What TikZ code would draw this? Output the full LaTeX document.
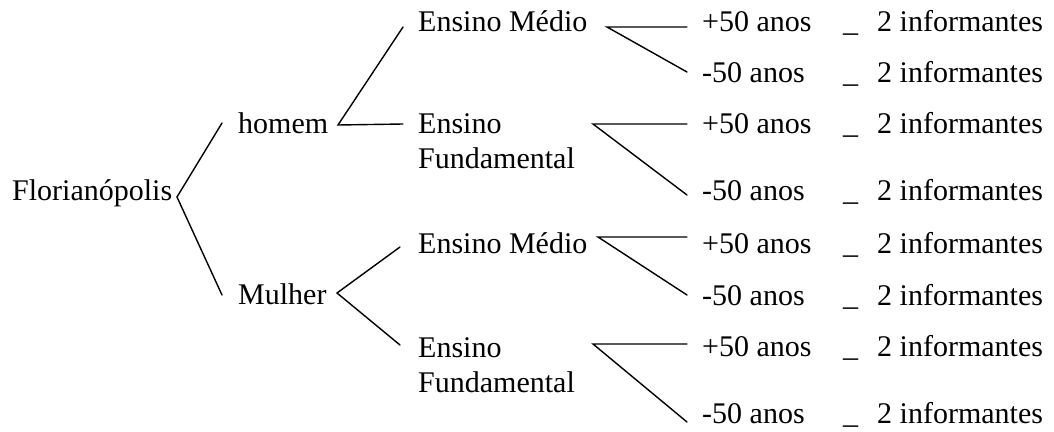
\documentclass[tikz,border=0pt]{standalone}
\usepackage{fontspec}
\setmainfont{Liberation Serif}
\begin{document}
\begin{tikzpicture}[x=1pt,y=-1pt,
  lbl/.style={anchor=base west,inner sep=0pt,font=\fontsize{30}{35}\selectfont},
  br/.style={line width=1.4pt,line cap=round}]
\useasboundingbox (0,0) rectangle (1054,431);
% texts
\node[lbl] (flo) at (12,200) {Florianópolis};
\node[lbl] (hom) at (238,133) {homem};
\node[lbl] (mul) at (238,304) {Mulher};
\node[lbl] (em1) at (418,31) {Ensino Médio};
\node[lbl] (ef1) at (418,133) {\vtop{\baselineskip=35pt\hbox{Ensino}\hbox{Fundamental}}};
\node[lbl] (em2) at (418,253) {Ensino Médio};
\node[lbl] (ef2) at (418,357) {\vtop{\baselineskip=35pt\hbox{Ensino}\hbox{Fundamental}}};
\foreach \i/\y/\t in {1/31/+50,2/82/-50,3/133/+50,4/200/-50,5/253/+50,6/305/-50,7/356/+50,8/423/-50}{
  \node[lbl] (a\i) at (702,\y) {\t{} anos};
  \node[lbl] (u\i) at (843,\y) {\_};
  \node[lbl] (n\i) at (877,\y) {2 informantes};
}
% branch coordinates
\coordinate (vF) at (177,197);
\coordinate (tH) at (222,123);
\coordinate (tM) at (222,295);
\coordinate (vH) at (338,125);
\coordinate (tH1) at (403,27);
\coordinate (tH2) at (403,124);
\coordinate (vM) at (337,293);
\coordinate (tM1) at (400,247);
\coordinate (tM2) at (400,345);
\coordinate (v1) at (607,27);
\coordinate (v2) at (593,124);
\coordinate (v3) at (598,237);
\coordinate (v4) at (593,344);
\coordinate (e1) at (687,27);
\coordinate (e2) at (687,72);
\coordinate (e3) at (687,124);
\coordinate (e4) at (687,195);
\coordinate (e5) at (687,237);
\coordinate (e6) at (687,295);
\coordinate (e7) at (687,344);
\coordinate (e8) at (687,422);
\draw[br] (tH) -- (vF) -- (tM);
\draw[br] (tH1) -- (vH) -- (tH2);
\draw[br] (tM1) -- (vM) -- (tM2);
\draw[br] (e1) -- (v1) -- (e2);
\draw[br] (e3) -- (v2) -- (e4);
\draw[br] (e5) -- (v3) -- (e6);
\draw[br] (e7) -- (v4) -- (e8);
\end{tikzpicture}
\end{document}
